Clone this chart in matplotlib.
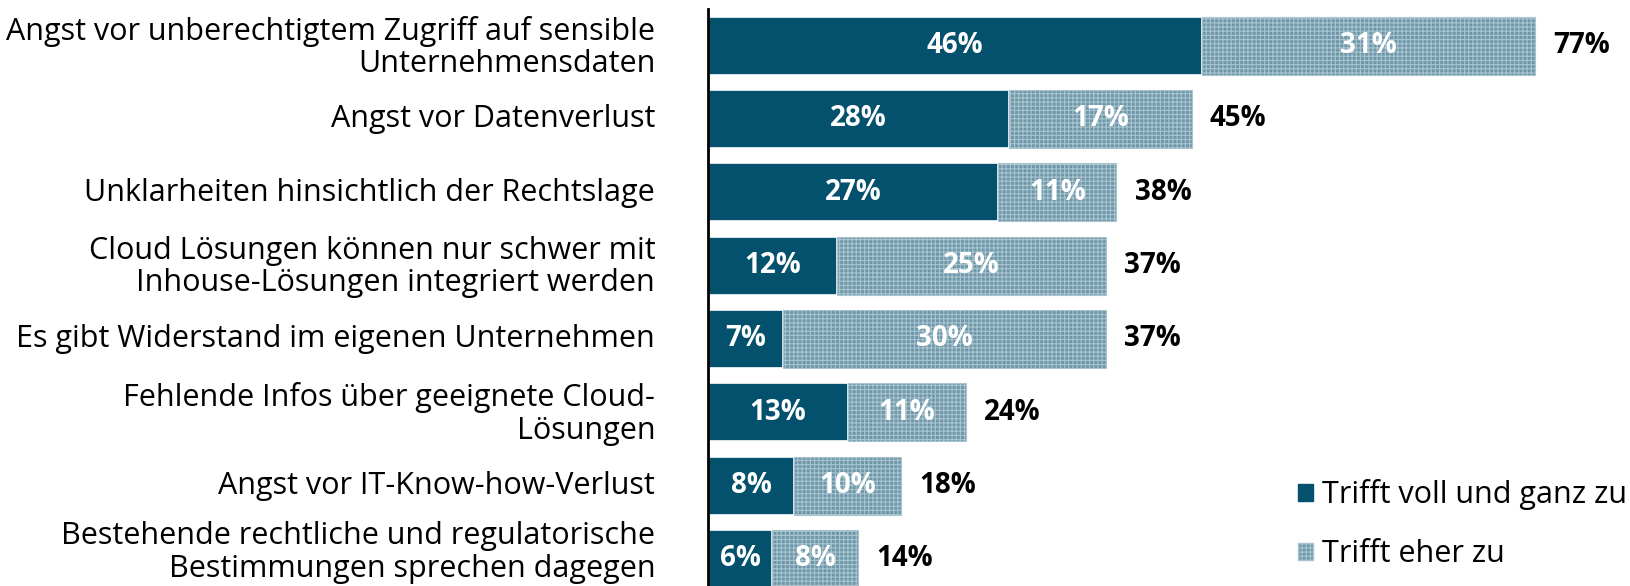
import matplotlib.pyplot as plt
import matplotlib.transforms as mtransforms
from matplotlib.patches import Patch

# Data
categories = [
    "Angst vor unberechtigtem Zugriff auf sensible\nUnternehmensdaten",
    "Angst vor Datenverlust",
    "Unklarheiten hinsichtlich der Rechtslage",
    "Cloud Lösungen können nur schwer mit\nInhouse-Lösungen integriert werden",
    "Es gibt Widerstand im eigenen Unternehmen",
    "Fehlende Infos über geeignete Cloud-\nLösungen",
    "Angst vor IT-Know-how-Verlust",
    "Bestehende rechtliche und regulatorische\nBestimmungen sprechen dagegen",
]
voll = [46, 28, 27, 12, 7, 13, 8, 6]
eher = [31, 17, 11, 25, 30, 11, 10, 8]
series_names = ["Trifft voll und ganz zu", "Trifft eher zu"]

dark = "#03516d"
light = "#6e98a9"
hatch_col = "#a9c4ce"

plt.rcParams["font.family"] = ["Open Sans", "DejaVu Sans"]
plt.rcParams["hatch.linewidth"] = 0.8

fig = plt.figure(figsize=(16.3, 5.86), dpi=100)
ax = fig.add_axes([708 / 1630, 0, 1 - 708 / 1630, (586 - 9) / 586])

y = list(range(len(categories)))
ax.barh(y, voll, height=0.79, color=dark, edgecolor="white", linewidth=1.2)
ax.barh(y, eher, left=voll, height=0.79, color=light, edgecolor=hatch_col,
        linewidth=0.8, hatch="++++")

for i, (a, b) in enumerate(zip(voll, eher)):
    ax.text(a / 2, i, f"{a}%", ha="center", va="center", color="white",
            fontsize=20, fontweight="bold")
    ax.text(a + b / 2, i, f"{b}%", ha="center", va="center", color="white",
            fontsize=20, fontweight="bold")
    ax.text(a + b + 1.7, i, f"{a + b}%", ha="left", va="center", color="black",
            fontsize=20, fontweight="bold")

ax.set_xlim(0, 85.8)
ax.set_ylim(7.37, -0.5)
ax.set_yticks(y)
ax.set_yticklabels(categories, fontsize=22, linespacing=1.1)
ax.tick_params(axis="y", length=0, pad=38)
ax.set_xticks([])
for s in ["top", "right", "bottom"]:
    ax.spines[s].set_visible(False)
ax.spines["left"].set_linewidth(2)

# labels sit slightly higher in the original, the last one more so it fits
labels = ax.get_yticklabels()
for k, lab in enumerate(labels):
    dy = 11 if k == len(labels) - 1 else 3
    lab.set_transform(lab.get_transform() +
                      mtransforms.ScaledTranslation(0, dy / 100, fig.dpi_scale_trans))

handles = [Patch(facecolor=dark, edgecolor=dark),
           Patch(facecolor=light, edgecolor=hatch_col, hatch="++++")]
ax.legend(handles, series_names, loc="upper left",
          bbox_to_anchor=(1298 / 1630, 1 - 479 / 586), bbox_transform=fig.transFigure,
          frameon=False, fontsize=22, handlelength=0.48, handleheight=0.48,
          handletextpad=0.3, labelspacing=0.95, borderpad=0, borderaxespad=0)

fig.savefig("out.png", dpi=100)
